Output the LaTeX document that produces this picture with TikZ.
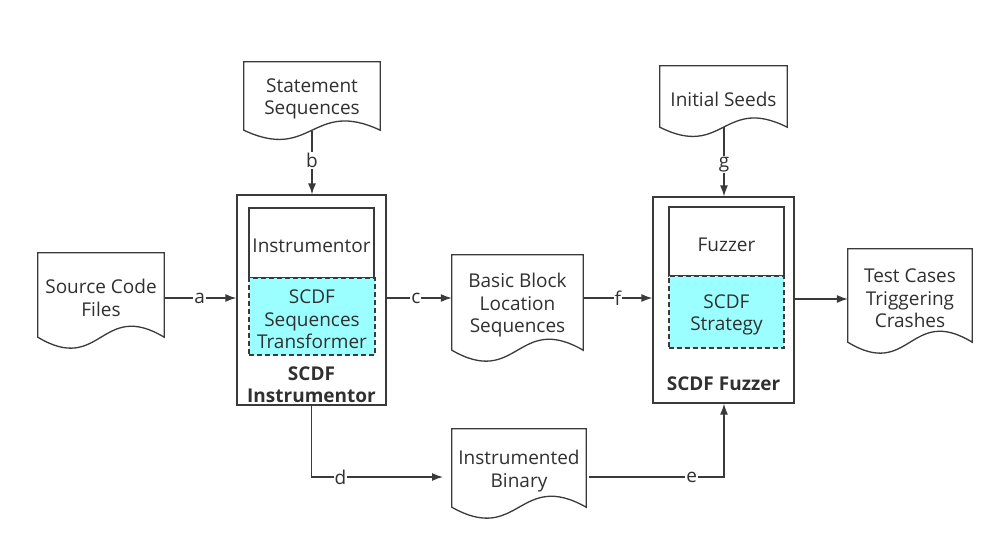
\documentclass[tikz,border=0pt]{standalone}
\usepackage{fontspec}
\setmainfont{Open Sans}
\usetikzlibrary{arrows.meta,calc}
\definecolor{ln}{HTML}{3A3A3A}
\definecolor{tx}{HTML}{303030}
\definecolor{cy}{HTML}{9CFFFF}
\tikzset{
  every node/.style={font=\fontsize{19}{22.5}\selectfont, text=tx},
  doc/.style={draw=none, align=center, inner sep=0pt},
  txt/.style={align=center, inner sep=0pt, yshift=-3pt},
  outl/.style={draw=ln, line width=1.3pt, fill=white},
  outerbox/.style={draw=ln, line width=1.3pt, inner sep=0pt, align=center},
  innerbox/.style={draw=ln, line width=1.3pt, inner sep=0pt, align=center, fill=white},
  cybox/.style={draw=ln, line width=1.2pt, dash pattern=on 5pt off 3pt, fill=cy, inner sep=0pt, align=center},
  boldlbl/.style={font=\fontsize{19}{22.5}\selectfont\bfseries, align=center, inner sep=0pt, yshift=-3pt},
  conn/.style={draw=ln, line width=1.3pt, -{Latex[length=11pt,width=8pt]}},
  elbl/.style={fill=white, inner sep=1pt},
}
\newcommand\docout[2]{%
  \path[outl] (#1.north west) -- (#1.north east) -- (#1.south east)
    .. controls ($(#1.south)+(0,-#2)$) and ($(#1.south)+(0,#2)$) .. (#1.south west) -- cycle;}
\begin{document}
\begin{tikzpicture}[x=1pt,y=-1pt]
\useasboundingbox[fill=white] (0,0) rectangle (1004,533);

% document shapes (nodes then outlines)
\node[doc, minimum width=136pt, minimum height=68pt] (stmt) at (312,96) {};
\node[doc, minimum width=126pt, minimum height=84pt] (src) at (101,295) {};
\node[doc, minimum width=131pt, minimum height=95pt] (bbl) at (517.5,302.5) {};
\node[doc, minimum width=127pt, minimum height=61pt] (seeds) at (723.5,96.5) {};
\node[doc, minimum width=124pt, minimum height=93pt] (test) at (910,295.5) {};
\node[doc, minimum width=134pt, minimum height=78pt] (bin) at (519,468) {};
\docout{stmt}{32}
\docout{src}{38}
\docout{bbl}{38}
\docout{seeds}{32}
\docout{test}{38}
\docout{bin}{38}
\node[txt] (stmtT) at (stmt) {Statement\\Sequences};
\node[txt] (srcT) at (src) {Source Code\\Files};
\node[txt] (bblT) at (bbl) {Basic Block\\Location\\Sequences};
\node[txt] (seedsT) at (seeds) {Initial Seeds};
\node[txt] (testT) at (test) {Test Cases\\Triggering\\Crashes};
\node[txt] (binT) at (bin) {Instrumented\\Binary};

% SCDF Instrumentor
\node[outerbox, minimum width=149pt, minimum height=210pt] (instr) at (311.5,300) {};
\node[innerbox, minimum width=125pt, minimum height=70pt] (instrIn) at (311.5,243) {};
\node[cybox, minimum width=126pt, minimum height=77pt] (instrCy) at (312,316.5) {};
\node[txt] (instrInT) at (instrIn) {Instrumentor};
\node[txt] (instrCyT) at (instrCy) {SCDF\\Sequences\\Transformer};
\node[boldlbl] (instrLbl) at (311.5,381.5) {SCDF\\Instrumentor};

% SCDF Fuzzer
\node[outerbox, minimum width=141pt, minimum height=206pt] (fuzz) at (723.5,300) {};
\node[innerbox, minimum width=115pt, minimum height=69pt] (fuzzIn) at (726.5,241.5) {};
\node[cybox, minimum width=115pt, minimum height=72pt] (fuzzCy) at (726.5,312) {};
\node[txt] (fuzzInT) at (fuzzIn) {Fuzzer};
\node[txt] (fuzzCyT) at (fuzzCy) {SCDF\\Strategy};
\node[boldlbl] (fuzzLbl) at (723.5,381) {SCDF Fuzzer};

% connectors
\coordinate (stmtB) at (312,131);
\coordinate (seedsB) at (724,127);
\coordinate (dEnd) at (443,477);
\coordinate (eStart) at (589,477);

\draw[conn] (src.east |- 0,298) -- node[elbl, pos=0.49] {a} (instr.west |- 0,298);
\draw[conn] (stmtB) -- node[elbl, pos=0.47] {b} (instr.north -| stmtB);
\draw[conn] (instr.east |- 0,298) -- node[elbl, pos=0.45] {c} (bbl.west |- 0,298);
\draw[conn] (bbl.east |- 0,298) -- node[elbl, pos=0.5] {f} (fuzz.west |- 0,298);
\draw[conn] (seedsB) -- node[elbl, pos=0.54] {g} (fuzz.north -| seedsB);
\draw[conn] (fuzz.east |- 0,299) -- (test.west |- 0,299);
\draw[conn] (instr.south) |- node[elbl, pos=0.61] {d} (dEnd);
\draw[conn] (eStart) -| node[elbl, pos=0.38] {e} (fuzz.south -| seedsB);
\end{tikzpicture}
\end{document}
